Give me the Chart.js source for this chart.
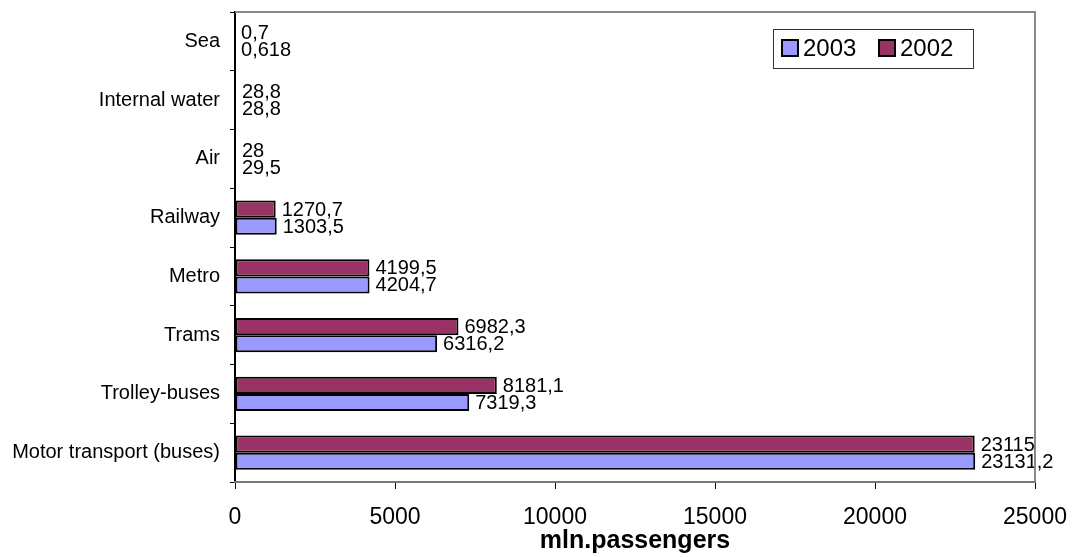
<!DOCTYPE html>
<html>
<head>
<meta charset="utf-8">
<title>Passenger transport</title>
<script src="https://cdn.jsdelivr.net/npm/chart.js@4.4.1/dist/chart.umd.min.js"></script>
<style>
  html, body { margin: 0; padding: 0; background: #fff; }
  #wrap { width: 1072px; height: 557px; }
</style>
</head>
<body>
<div id="wrap"><canvas id="chart" width="1072" height="557"></canvas></div>
<script>
// transport types, top to bottom
const categories = ['Sea', 'Internal water', 'Air', 'Railway', 'Metro', 'Trams', 'Trolley-buses', 'Motor transport (buses)'];
// mln. passengers
const values2002 = [0.7, 28.8, 28, 1270.7, 4199.5, 6982.3, 8181.1, 23115];
const values2003 = [0.618, 28.8, 29.5, 1303.5, 4204.7, 6316.2, 7319.3, 23131.2];
const xTicks = [0, 5000, 10000, 15000, 20000, 25000];

const FONT = "'Liberation Sans', Arial, sans-serif";

// numbers written with a decimal comma
function fmt(v) {
  return String(v).replace('.', ',');
}

// value labels at the end of each bar
const barLabels = {
  id: 'barLabels',
  afterDatasetsDraw(chart) {
    const ctx = chart.ctx;
    ctx.save();
    ctx.font = '20px ' + FONT;
    ctx.fillStyle = '#000';
    ctx.textBaseline = 'middle';
    ctx.textAlign = 'left';
    chart.data.datasets.forEach((ds, i) => {
      chart.getDatasetMeta(i).data.forEach((bar, j) => {
        ctx.fillText(fmt(ds.data[j]), bar.x + 6, bar.y + 1);
      });
    });
    ctx.restore();
  }
};

// grey frame on top/right of the plot and the boxed legend inside it
const frameAndLegend = {
  id: 'frameAndLegend',
  afterDraw(chart) {
    const ctx = chart.ctx;
    const a = chart.chartArea;
    ctx.save();
    ctx.strokeStyle = '#888';
    ctx.lineWidth = 2;
    ctx.beginPath();
    ctx.moveTo(a.left, a.top);
    ctx.lineTo(a.right, a.top);
    ctx.lineTo(a.right, a.bottom);
    ctx.stroke();

    // legend, 2003 listed first
    const lx = 773, ly = 29, lw = 200, lh = 39;
    ctx.fillStyle = '#fff';
    ctx.fillRect(lx, ly, lw, lh);
    ctx.strokeStyle = '#333';
    ctx.lineWidth = 1;
    ctx.strokeRect(lx + 0.5, ly + 0.5, lw, lh);

    const items = chart.data.datasets.slice().reverse();
    let x = lx + 9;
    ctx.font = '24px ' + FONT;
    ctx.textBaseline = 'middle';
    items.forEach(ds => {
      ctx.fillStyle = ds.backgroundColor;
      ctx.fillRect(x, ly + 11, 16, 16);
      ctx.strokeStyle = '#000';
      ctx.lineWidth = 2;
      ctx.strokeRect(x, ly + 11, 16, 16);
      ctx.fillStyle = '#000';
      ctx.fillText(ds.label, x + 21, ly + 20);
      x += 97;
    });
    ctx.restore();
  }
};

const ctx = document.getElementById('chart').getContext('2d');
new Chart(ctx, {
  type: 'bar',
  data: {
    labels: categories,
    datasets: [
      {
        label: '2002',
        data: values2002,
        backgroundColor: '#993366',
        borderColor: '#000',
        borderWidth: 2,
        borderSkipped: false
      },
      {
        label: '2003',
        data: values2003,
        backgroundColor: '#9999FF',
        borderColor: '#000',
        borderWidth: 2,
        borderSkipped: false
      }
    ]
  },
  options: {
    indexAxis: 'y',
    responsive: false,
    animation: false,
    categoryPercentage: 0.58,
    barPercentage: 1,
    layout: { padding: { top: 12, right: 37, left: 0, bottom: 0 } },
    plugins: {
      legend: { display: false },
      tooltip: { enabled: false }
    },
    scales: {
      y: {
        afterFit(scale) {
          scale.width = 235;
          scale.paddingTop = 0;
          scale.paddingBottom = 0;
        },
        grid: {
          offset: true,
          drawOnChartArea: false,
          tickLength: 5,
          color: '#000',
          lineWidth: 1
        },
        border: { color: '#000', width: 2 },
        ticks: {
          color: '#000',
          padding: 10,
          font: { family: FONT, size: 20 }
        }
      },
      x: {
        min: 0,
        max: 25000,
        afterFit(scale) {
          scale.height = 75;
          scale.paddingLeft = 0;
          scale.paddingRight = 0;
        },
        afterBuildTicks(scale) {
          scale.ticks = xTicks.map(v => ({ value: v }));
        },
        grid: {
          drawOnChartArea: false,
          tickLength: 7,
          color: '#000',
          lineWidth: 1
        },
        border: { color: '#777', width: 2 },
        ticks: {
          color: '#000',
          padding: 15,
          maxRotation: 0,
          callback: v => String(v),
          font: { family: FONT, size: 23 }
        },
        title: {
          display: true,
          text: 'mln.passengers',
          color: '#000',
          padding: { top: 0, bottom: 1 },
          font: { family: FONT, size: 25, weight: 'bold' }
        }
      }
    }
  },
  plugins: [barLabels, frameAndLegend]
});
</script>
</body>
</html>
